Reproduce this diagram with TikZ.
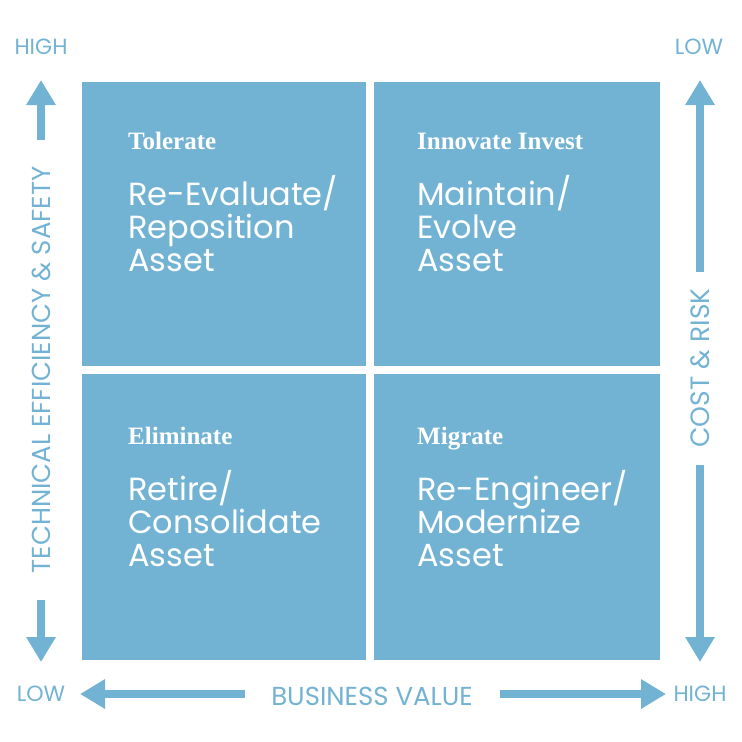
\documentclass[tikz,border=0pt]{standalone}
\usepackage{fontspec}
\setmainfont{Poppins}
\newfontfamily\serifhead{Liberation Serif}
\usetikzlibrary{arrows.meta}
\definecolor{qblue}{HTML}{72B3D4}
\begin{document}
\begin{tikzpicture}[x=1pt,y=-1pt,
  quad/.style={fill=qblue,draw=none},
  head/.style={anchor=base west,text=white,font=\serifhead\bfseries\fontsize{25}{25}\selectfont,inner sep=0},
  body/.style={anchor=base west,text=white,font=\fontsize{32}{33}\selectfont,align=left,inner sep=0},
  axlbl/.style={text=qblue,font=\fontsize{22}{22}\selectfont,inner sep=0},
  axarrow/.style={draw=qblue,line width=8pt,-{Triangle[width=28pt,length=25pt]}}]
\useasboundingbox (0,0) rectangle (742,742);
\fill[quad] (82,82) rectangle (366,366);
\fill[quad] (374,82) rectangle (660,366);
\fill[quad] (82,374) rectangle (366,660);
\fill[quad] (374,374) rectangle (660,660);
\node[head] (h1) at (128,149) {Tolerate};
\node[head] (h2) at (417,149) {Innovate Invest};
\node[head] (h3) at (128,444) {Eliminate};
\node[head] (h4) at (417,444) {Migrate};
\node[body] (b1) at (128,271) {Re-Evaluate/\\Reposition\\Asset};
\node[body] (b2) at (417,271) {Maintain/\\Evolve\\Asset};
\node[body] (b3) at (128,566) {Retire/\\Consolidate\\Asset};
\node[body] (b4) at (417,566) {Re-Engineer/\\Modernize\\Asset};
\node[axlbl] (lhigh) at (41,47) {HIGH};
\node[axlbl] (rlow) at (699,47) {LOW};
\node[axlbl] (llow) at (41,694) {LOW};
\node[axlbl] (rhigh) at (700,694) {HIGH};
\node[axlbl,rotate=90,font=\fontsize{26}{26}\selectfont] (tes) at (41,370) {TECHNICAL EFFICIENCY \& SAFETY};
\node[axlbl,rotate=90,font=\fontsize{26.5}{26}\selectfont] (cr) at (700,368) {COST \& RISK};
\node[axlbl,font=\fontsize{26}{26}\selectfont] (bv) at (372,696) {BUSINESS VALUE};
\coordinate (a1s) at (41,140); \coordinate (a1e) at (41,80);
\coordinate (a2s) at (41,600); \coordinate (a2e) at (41,662);
\coordinate (a3s) at (700,272); \coordinate (a3e) at (700,80);
\coordinate (a4s) at (700,465); \coordinate (a4e) at (700,662);
\coordinate (a5s) at (245,694); \coordinate (a5e) at (80,694);
\coordinate (a6s) at (500,694); \coordinate (a6e) at (666,694);
\draw[axarrow] (a1s) -- (a1e);
\draw[axarrow] (a2s) -- (a2e);
\draw[axarrow] (a3s) -- (a3e);
\draw[axarrow] (a4s) -- (a4e);
\draw[axarrow] (a5s) -- (a5e);
\draw[axarrow] (a6s) -- (a6e);
\end{tikzpicture}
\end{document}
